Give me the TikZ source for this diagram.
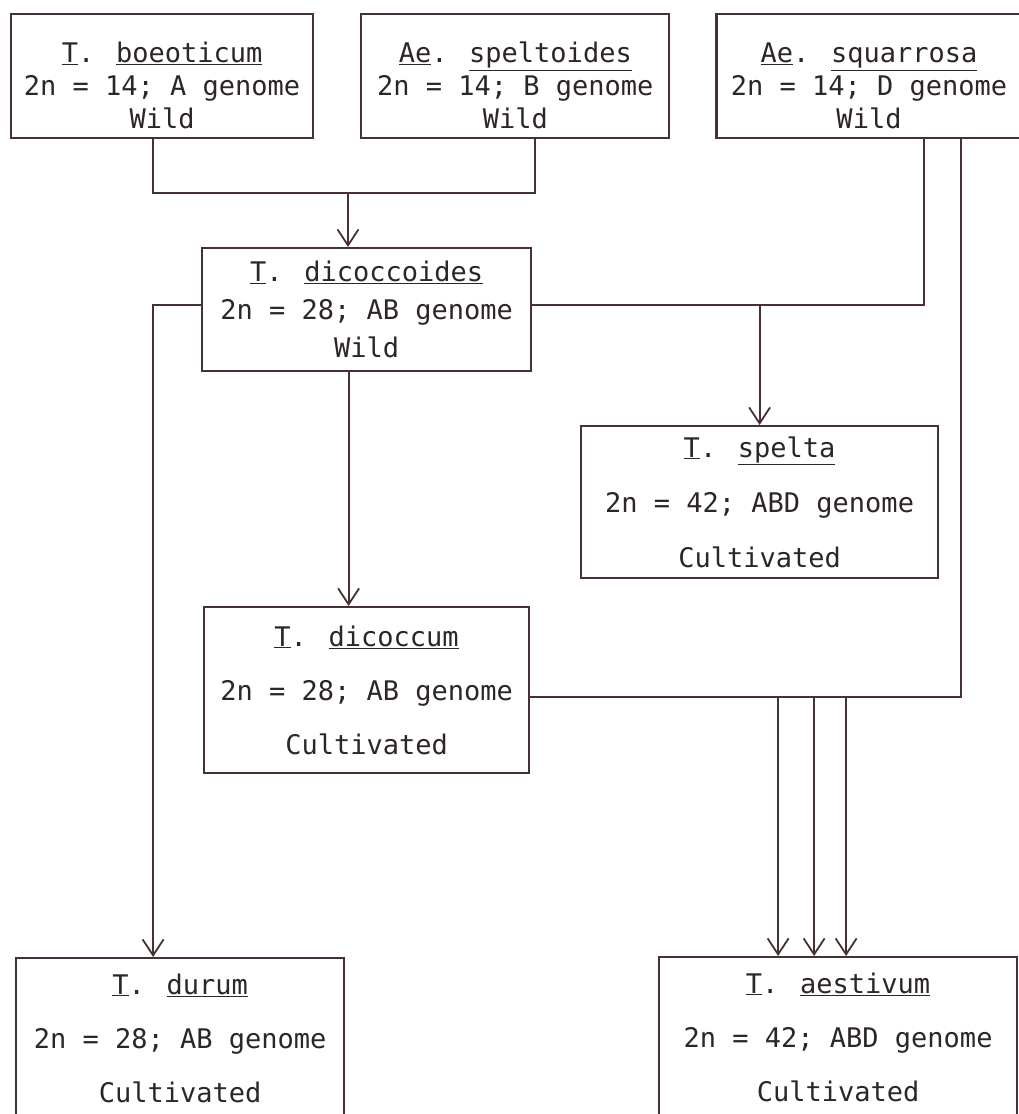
\documentclass[tikz,border=0pt]{standalone}
\usepackage{fontspec}
\newfontfamily\typewriter{DejaVu Sans Mono}
\usetikzlibrary{arrows.meta, positioning}
\definecolor{inkbrown}{RGB}{70,50,50}
\definecolor{typeink}{RGB}{45,38,38}
\newcommand{\uln}[1]{\underline{#1}}
\newcommand{\topgap}{\vphantom{\rule{1pt}{40pt}}}
\tikzset{
  % Species box (line spacing as parameter)
  taxon/.style={
    rectangle, draw=inkbrown, line width=2.2pt, fill=white, text=typeink,
    inner sep=0pt, align=center, anchor=north west,
    font=\typewriter\fontsize{27}{#1}\selectfont
  },
  taxon/.default=33,
  link/.style={inkbrown, line width=1.8pt},
  linkarrow/.style={link, -{Straight Barb[length=16pt, width=21pt, line width=1.8pt]}}
}
\begin{document}
\begin{tikzpicture}[x=1pt, y=-1pt]
  \useasboundingbox[fill=white] (0,0) rectangle (1019,1114);
  \clip (0,0) rectangle (1019,1114);

  % Wild diploids
  \node[taxon, minimum width=302pt, minimum height=124pt] (boeo) at (10,13)
    {\topgap\uln{T}. \uln{boeoticum}\\2n = 14; A genome\\Wild};
  \node[taxon, minimum width=308pt, minimum height=124pt, right=46pt of boeo] (spelt)
    {\topgap\uln{Ae}. \uln{speltoides}\\2n = 14; B genome\\Wild};
  \node[taxon, minimum width=305pt, minimum height=124pt, right=45pt of spelt] (squar)
    {\topgap\uln{Ae}. \uln{squarrosa}\\2n = 14; D genome\\Wild};

  % Tetraploids and hexaploids
  \node[taxon=38, minimum width=329pt, minimum height=123pt] (dicoides) at (201,247)
    {\uln{T}. \uln{dicoccoides}\\2n = 28; AB genome\\Wild};
  \node[taxon=55, minimum width=357pt, minimum height=152pt] (spelta) at (580,425)
    {\uln{T}. \uln{spelta}\\2n = 42; ABD genome\\Cultivated};
  \node[taxon=54, minimum width=325pt, minimum height=166pt] (dicoccum) at (203,606)
    {\uln{T}. \uln{dicoccum}\\2n = 28; AB genome\\Cultivated};
  \node[taxon=54, minimum width=328pt, minimum height=160pt] (durum) at (15,957)
    {\uln{T}. \uln{durum}\\2n = 28; AB genome\\Cultivated};
  \node[taxon=54, minimum width=358pt, minimum height=160pt] (aest) at (658,956)
    {\uln{T}. \uln{aestivum}\\2n = 42; ABD genome\\Cultivated};

  % A + B -> AB
  \coordinate (j1) at (348,193);
  \draw[link] ([xshift=-9pt]boeo.south) |- (j1) -| ([xshift=20pt]spelt.south);
  \draw[linkarrow] (j1) -- (j1 |- dicoides.north);

  % AB + D -> spelta
  \coordinate (w1) at ([yshift=5pt]dicoides.east);
  \draw[link] ([xshift=55pt]squar.south) |- (w1);
  \draw[linkarrow] (spelta.north |- w1) -- (spelta.north);

  % AB lines downwards
  \draw[linkarrow] ([yshift=5pt]dicoides.west) -| ([xshift=-27pt]durum.north);
  \draw[linkarrow] ([xshift=-18pt]dicoides.south) -- ([xshift=-18pt]dicoccum.north);

  % dicoccum + D -> aestivum
  \coordinate (w2) at ([yshift=-7pt]dicoccum.east);
  \draw[link] ([xshift=92pt]squar.south) |- (w2);
  \foreach \dx in {-60,-24,8} {
    \coordinate (t) at ([xshift=\dx pt]aest.north);
    \draw[linkarrow] (t |- w2) -- (t);
  }
\end{tikzpicture}
\end{document}
